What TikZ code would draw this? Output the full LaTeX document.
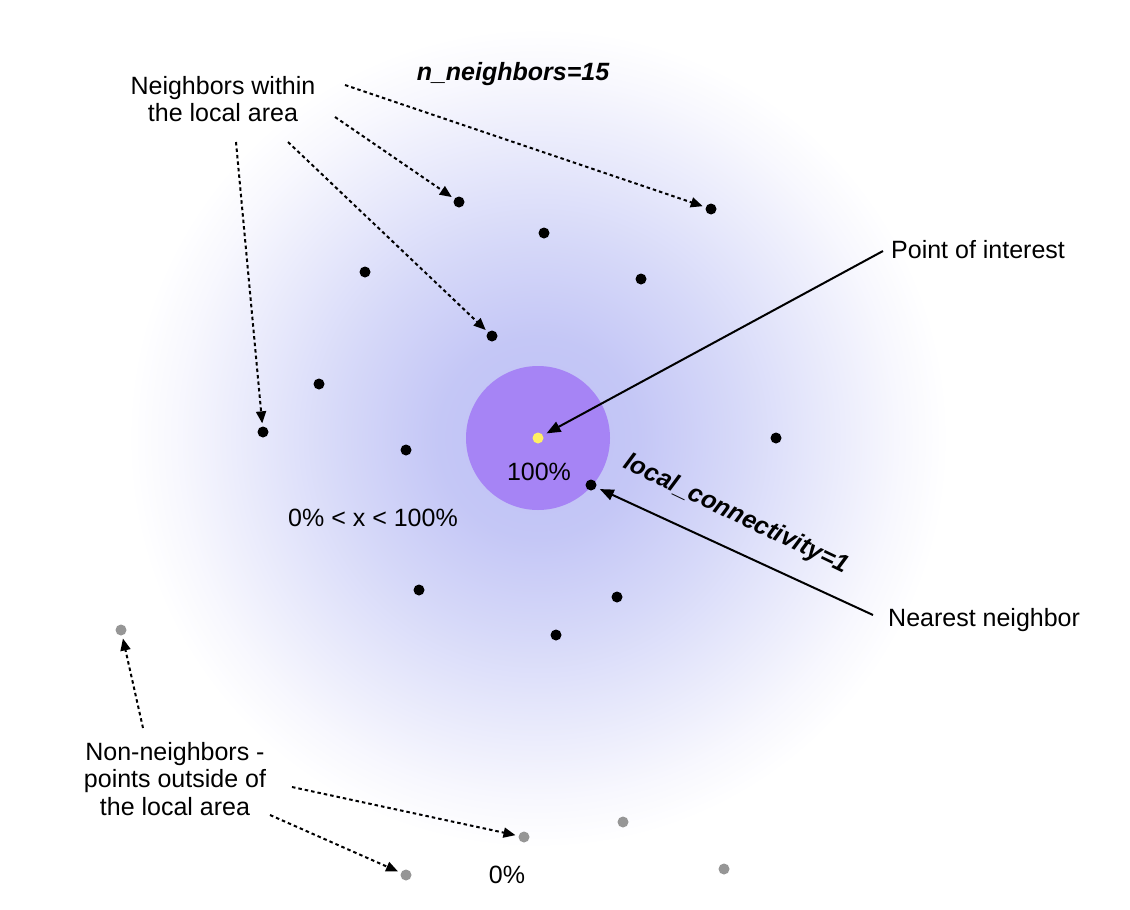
\documentclass[tikz,border=0pt]{standalone}
\usepackage{fontspec}
\setmainfont{Liberation Sans}
\usetikzlibrary{arrows.meta}
\definecolor{poolc}{RGB}{166,132,245}
\definecolor{poic}{RGB}{255,240,100}
\definecolor{nonc}{RGB}{150,150,150}
\pgfdeclareradialshading{glow}{\pgfpoint{0bp}{0bp}}{rgb(0bp)=(0.745,0.757,0.96); rgb(4.17bp)=(0.77,0.78,0.965); rgb(8.33bp)=(0.84,0.85,0.975); rgb(11.9bp)=(0.91,0.915,0.985); rgb(15bp)=(0.97,0.97,0.995); rgb(17.1bp)=(1,1,1); rgb(50bp)=(1,1,1)}
\tikzset{
  lbl/.style={font=\fontsize{25}{27.5}\selectfont, inner sep=0pt, align=center},
  blbl/.style={font=\fontsize{25}{27.5}\selectfont\bfseries\itshape, inner sep=0pt},
  nbdot/.style={circle, fill=black, minimum size=11pt, inner sep=0pt},
  farpt/.style={circle, fill=nonc, minimum size=11pt, inner sep=0pt},
  poipt/.style={circle, fill=poic, minimum size=11pt, inner sep=0pt},
  dotarrow/.style={line width=2pt, dash pattern=on 3.5pt off 3pt, -{Triangle[length=12pt,width=10pt]}, shorten >=3pt},
  solidarrow/.style={line width=2pt, -{Triangle[length=14pt,width=11pt]}, shorten >=4pt}
}
\begin{document}
\begin{tikzpicture}[x=1pt,y=-1pt]
\useasboundingbox (0,0) rectangle (1130,910);
\begin{scope}
\clip (0,0) rectangle (1130,910);
\fill[white] (0,0) rectangle (1130,910);
% glow
\fill[shading=glow] (-62,-162) rectangle (1138,1038);
\end{scope}
% pool of certainty
\fill[poolc] (538,438) circle (72);
% point of interest
\node[poipt] (poi) at (538,438) {};
% neighbors
\node[nbdot] (n1) at (459,202) {};
\node[nbdot] (n2) at (544,233) {};
\node[nbdot] (n3) at (711,209) {};
\node[nbdot] (n4) at (365,272) {};
\node[nbdot] (n5) at (641,279) {};
\node[nbdot] (n6) at (492,336) {};
\node[nbdot] (n7) at (319,384) {};
\node[nbdot] (n8) at (263,432) {};
\node[nbdot] (n9) at (406,450) {};
\node[nbdot] (n10) at (776,438) {};
\node[nbdot] (nn) at (591,485) {};
\node[nbdot] (n12) at (419,590) {};
\node[nbdot] (n13) at (617,597) {};
\node[nbdot] (n14) at (556,635) {};
% non-neighbors
\node[farpt] (f1) at (121,630) {};
\node[farpt] (f2) at (524,837) {};
\node[farpt] (f3) at (623,822) {};
\node[farpt] (f4) at (724,869) {};
\node[farpt] (f5) at (406,875) {};
% labels
\node[lbl] (lneigh) at (223,99) {Neighbors within\\the local area};
\node[blbl] (lnn) at (513,74) {n\_neighbors=15};
\node[lbl, anchor=west] (lpoi) at (891,250) {Point of interest};
\node[lbl] (l100) at (539,472) {100\%};
\node[lbl] (lmid) at (373,518) {0\% < x < 100\%};
\node[blbl, rotate=-25.6] (llc) at (736,515) {local\_connectivity=1};
\node[lbl, anchor=west] (lnear) at (888,620) {Nearest neighbor};
\node[lbl] (lnon) at (175,779) {Non-neighbors -\\points outside of\\the local area};
\node[lbl] (l0) at (507,875) {0\%};
% arrow starts
\coordinate (s1) at (345,85);
\coordinate (s2) at (335,117);
\coordinate (s3) at (288,142);
\coordinate (s4) at (236,142);
\coordinate (s5) at (143,728);
\coordinate (s6) at (292,787);
\coordinate (s7) at (270,815);
\coordinate (sp) at (883,251);
\coordinate (sn) at (873,615);
% dotted arrows
\draw[dotarrow] (s1) -- (n3);
\draw[dotarrow] (s2) -- (n1);
\draw[dotarrow] (s3) -- (n6);
\draw[dotarrow] (s4) -- (n8);
\draw[dotarrow] (s5) -- (f1);
\draw[dotarrow] (s6) -- (f2);
\draw[dotarrow] (s7) -- (f5);
% solid arrows
\draw[solidarrow] (sp) -- (poi);
\draw[solidarrow] (sn) -- (nn);
\end{tikzpicture}
\end{document}
